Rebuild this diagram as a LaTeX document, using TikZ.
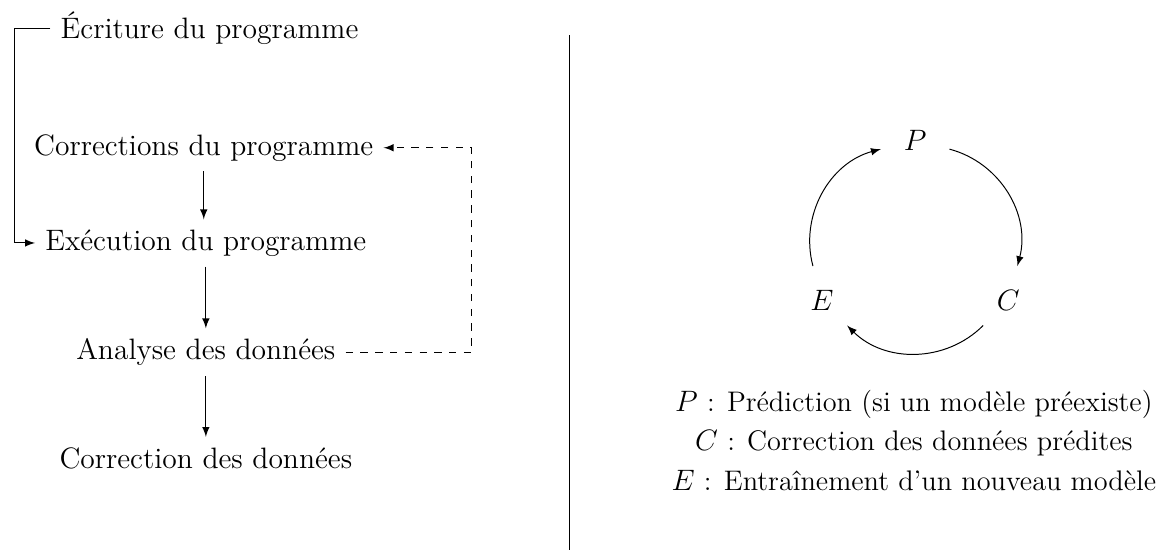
\documentclass[tikz,border=0pt,12pt]{standalone}
\usepackage{fontspec}
\usepackage{tikz}
\usetikzlibrary{arrows,positioning,calc}

\begin{document}
\begin{tikzpicture}[
    >=latex,
    stepbox/.style={rectangle, align=center},
    letter/.style={circle, minimum size=1cm, inner sep=0pt},
    arrow/.style={->},
    loopback/.style={->, dashed}
]
\useasboundingbox (0,0) rectangle (16.61,-7.94);

% Left: programme workflow
\node[stepbox, anchor=west] (ecr) at (0.72,-0.40) {Écriture du programme};
\node[stepbox] (corr) at (2.91,-2.11) {Corrections du programme};
\node[stepbox, anchor=west] (exe) at (0.50,-3.47) {Exécution du programme};
\node[stepbox] (ana) at (2.94,-5.03) {Analyse des données};
\node[stepbox] (cdon) at (2.94,-6.54) {Correction des données};
\coordinate (lft) at (0.20,0);
\coordinate (fb) at (6.74,0);

\draw[arrow] (corr.south) -- (corr.south |- exe.north);
\draw[arrow] (ana.north |- exe.south) -- (ana.north);
\draw[arrow] (ana.south) -- (cdon.north);
\draw[arrow] (ecr.west) -| (lft |- exe.west) -- (exe.west);
\draw[loopback] (ana.east) -| (fb |- corr.east) -- (corr.east);

% Separator
\coordinate (septop) at (8.14,-0.50);
\coordinate (sepbot) at (8.14,-7.86);
\draw (septop) -- (sepbot);

% Right: P-C-E cycle
\node[letter] (P) at (13.07,-2.00) {$P$};
\node[letter] (C) at (14.40,-4.29) {$C$};
\node[letter] (E) at (11.74,-4.29) {$E$};
\draw[arrow] (P) to[bend left=45] (C);
\draw[arrow] (C) to[bend left=45] (E);
\draw[arrow] (E) to[bend left=45] (P);

\node[stepbox, font=\fontsize{11.5}{14}\selectfont, anchor=east] (legend) at (16.66,-6.29) {$P$ : Prédiction (si un modèle préexiste)\\[2pt]
  $C$ : Correction des données prédites\\[2pt]
  $E$ : Entraînement d’un nouveau modèle};

\end{tikzpicture}
\end{document}
